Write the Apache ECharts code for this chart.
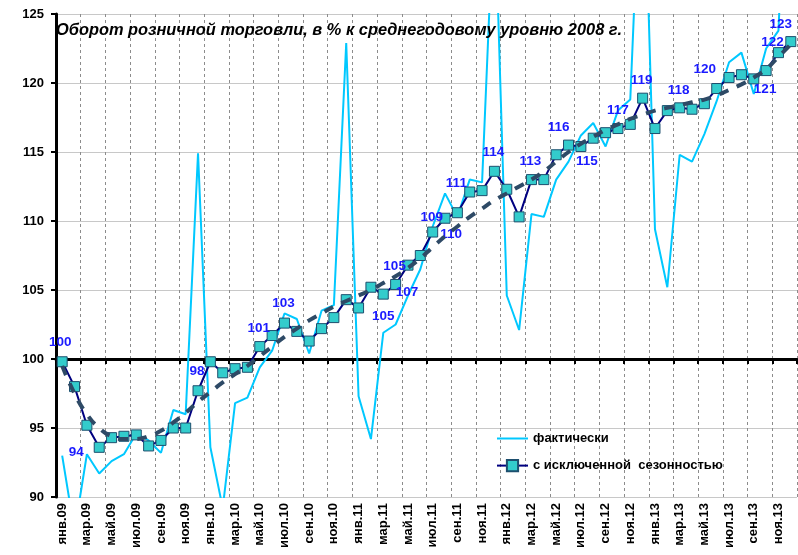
<!DOCTYPE html>
<html lang="ru">
<head>
<meta charset="UTF-8">
<title>Оборот розничной торговли</title>
<script src="https://cdn.jsdelivr.net/npm/echarts@6/dist/echarts.min.js"></script>
<style>
  html, body { margin: 0; padding: 0; background: #fff; }
  #chart { width: 798px; height: 555px; }
</style>
</head>
<body>
<div id="chart"></div>
<script>
// месяцы 2009-2013
const months = [
  'янв.09','фев.09','мар.09','апр.09','май.09','июн.09','июл.09','авг.09','сен.09','окт.09','ноя.09','дек.09',
  'янв.10','фев.10','мар.10','апр.10','май.10','июн.10','июл.10','авг.10','сен.10','окт.10','ноя.10','дек.10',
  'янв.11','фев.11','мар.11','апр.11','май.11','июн.11','июл.11','авг.11','сен.11','окт.11','ноя.11','дек.11',
  'янв.12','фев.12','мар.12','апр.12','май.12','июн.12','июл.12','авг.12','сен.12','окт.12','ноя.12','дек.12',
  'янв.13','фев.13','мар.13','апр.13','май.13','июн.13','июл.13','авг.13','сен.13','окт.13','ноя.13','дек.13'
];

// фактически
const actual = [
  93.0, 87.5, 93.1, 91.7, 92.6, 93.1, 94.6, 94.1, 93.2, 96.3, 96.0, 114.9,
  93.6, 89.2, 96.8, 97.2, 99.4, 100.6, 103.3, 102.9, 100.4, 103.5, 103.9, 122.9,
  97.3, 94.2, 101.9, 102.5, 104.6, 106.5, 109.6, 112.0, 110.3, 113.0, 112.8, 134.0,
  104.6, 102.1, 110.5, 110.3, 113.0, 114.3, 116.2, 117.1, 115.4, 118.0, 118.8, 140.0,
  109.4, 105.2, 114.8, 114.3, 116.3, 118.7, 121.5, 122.2, 119.2, 122.5, 123.8, 145.0
];

// с исключенной сезонностью
const seasonAdj = [
  99.8, 98.0, 95.2, 93.6, 94.3, 94.4, 94.5, 93.7, 94.1, 95.0, 95.0, 97.7,
  99.8, 99.0, 99.3, 99.4, 100.9, 101.7, 102.6, 102.0, 101.3, 102.2, 103.0, 104.3,
  103.7, 105.2, 104.7, 105.4, 106.8, 107.5, 109.2, 110.2, 110.6, 112.1, 112.2, 113.6,
  112.3, 110.3, 113.0, 113.0, 114.8, 115.5, 115.4, 116.0, 116.4, 116.7, 117.0, 118.9,
  116.7, 118.0, 118.2, 118.1, 118.5, 119.6, 120.4, 120.6, 120.3, 120.9, 122.2, 123.0
];

// тренд (пунктир)
const trend = [
  99.5, 97.5, 96.0, 95.0, 94.4, 94.2, 94.2, 94.4, 94.8, 95.4, 96.1, 96.9,
  97.6, 98.3, 98.9, 99.5, 100.2, 100.9, 101.6, 102.2, 102.8, 103.3, 103.8, 104.2,
  104.6, 105.0, 105.5, 106.0, 106.6, 107.3, 108.1, 108.9, 109.6, 110.3, 110.9, 111.5,
  112.0, 112.5, 113.0, 113.6, 114.3, 115.0, 115.6, 116.1, 116.6, 117.0, 117.4, 117.7,
  118.0, 118.2, 118.4, 118.6, 118.8, 119.1, 119.5, 119.9, 120.4, 121.0, 121.9, 122.8
];

// подписи точек (индекс месяца -> текст)
const pointLabels = {
  0: '100', 3: '94', 11: '98', 16: '101', 18: '103', 26: '105', 27: '105', 28: '107',
  30: '109', 31: '110', 32: '111', 35: '114', 38: '113', 41: '116', 42: '115', 45: '117',
  47: '119', 50: '118', 53: '120', 57: '121', 58: '122', 59: '123'
};

const yMin = 90, yMax = 125, yStep = 5;

// смещения подписей относительно маркера, px
const labelOffsets = {
  0: [-2, -19], 3: [-23, 5], 11: [-1, -19], 16: [-1, -18], 18: [-1, -20], 26: [0, 22],
  27: [-1, -18], 28: [-1, 27], 30: [-1, -15], 31: [6, 16], 32: [-1, -29], 35: [-1, -19],
  38: [-1, -18], 41: [-10, -18], 42: [6, 15], 45: [0, -18], 47: [-1, -18], 50: [-1, -18],
  53: [-12, -19], 57: [-1, 19], 58: [-6, -10], 59: [-10, -17]
};

const chart = echarts.init(document.getElementById('chart'));

const gridTop = 14, gridBottom = 58;
const plotH = 555 - gridTop - gridBottom;
const lineAt100 = -plotH * (100 - yMin) / (yMax - yMin);
const font = 'Liberation Sans, Arial, sans-serif';

const adjData = seasonAdj.map((v, i) => {
  if (!(i in pointLabels)) return v;
  return {
    value: v,
    label: {
      show: true,
      formatter: pointLabels[i],
      position: 'inside',
      offset: labelOffsets[i],
      color: '#1a1aff',
      fontWeight: 'bold',
      fontSize: 13.5,
      fontFamily: font
    }
  };
});

const option = {
  animation: false,
  backgroundColor: '#fff',
  title: {
    text: 'Оборот розничной торговли, в % к среднегодовому уровню 2008 г.',
    left: 56,
    top: 22,
    padding: 0,
    textStyle: {
      fontFamily: font,
      fontSize: 16.4,
      fontWeight: 'bold',
      fontStyle: 'italic',
      color: '#000'
    }
  },
  legend: {
    orient: 'vertical',
    left: 496,
    top: 432,
    itemWidth: 31,
    itemHeight: 14,
    itemGap: 14,
    padding: 0,
    data: [
      { name: 'фактически', itemStyle: { opacity: 0 } },
      { name: 'с исключенной  сезонностью' }
    ],
    textStyle: {
      fontFamily: font,
      fontSize: 13,
      fontWeight: 'bold',
      color: '#000'
    }
  },
  grid: { left: 56, right: 1, top: gridTop, bottom: gridBottom },
  xAxis: [
    {
      type: 'category',
      data: months,
      axisLine: { show: false },
      axisTick: { show: false },
      axisLabel: {
        interval: 1,
        rotate: 90,
        margin: 6,
        fontFamily: font,
        fontSize: 13,
        fontWeight: 'bold',
        color: '#000'
      },
      splitLine: {
        show: true,
        interval: 1,
        lineStyle: { color: '#8c8c8c', width: 1, type: [3, 3] }
      }
    },
    {
      type: 'category',
      data: months,
      position: 'bottom',
      offset: lineAt100,
      axisLine: { show: true, lineStyle: { color: '#000', width: 3 } },
      axisTick: { show: true, interval: 1, length: 5, lineStyle: { color: '#000', width: 2 } },
      axisLabel: { show: false },
      splitLine: { show: false }
    }
  ],
  yAxis: {
    type: 'value',
    min: yMin,
    max: yMax,
    interval: yStep,
    axisLine: { show: true, lineStyle: { color: '#000', width: 3 } },
    axisTick: { show: true, length: 5, lineStyle: { color: '#000', width: 2 } },
    axisLabel: {
      margin: 12,
      fontFamily: font,
      fontSize: 13,
      fontWeight: 'bold',
      color: '#000'
    },
    splitLine: { show: true, lineStyle: { color: '#c8c8c8', width: 1 } }
  },
  series: [
    {
      name: 'фактически',
      type: 'line',
      data: actual,
      symbol: 'none',
      lineStyle: { color: '#00c8ff', width: 2 },
      itemStyle: { color: '#00c8ff' },
      clip: true
    },
    {
      name: 'с исключенной  сезонностью',
      type: 'line',
      data: adjData,
      symbol: 'rect',
      symbolSize: 10,
      showSymbol: true,
      showAllSymbol: true,
      lineStyle: { color: '#000080', width: 2 },
      itemStyle: { color: '#33cccc', borderColor: '#1d4f6e', borderWidth: 1 },
      z: 3
    },
    {
      name: 'тренд',
      type: 'line',
      data: trend,
      symbol: 'none',
      smooth: true,
      lineStyle: { color: '#2e4a66', width: 4, type: [10, 9] },
      z: 4
    }
  ]
};

chart.setOption(option);
</script>
</body>
</html>
